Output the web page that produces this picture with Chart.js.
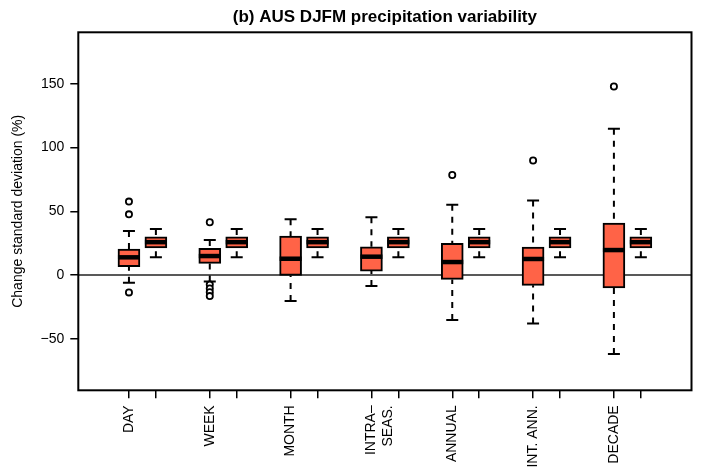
<!DOCTYPE html>
<html>
<head>
<meta charset="utf-8">
<script src="https://cdn.jsdelivr.net/npm/chart.js@4.4.1/dist/chart.umd.min.js"></script>
<style>
  html, body { margin: 0; padding: 0; background: #fff; }
  #wrap { width: 703px; height: 474px; }
</style>
</head>
<body>
<div id="wrap"><canvas id="c" width="703" height="474"></canvas></div>
<script>
// Time scales on the x axis
const timescales = ['DAY', 'WEEK', 'MONTH', ['INTRA–', 'SEAS.'], 'ANNUAL', 'INT. ANN.', 'DECADE'];

// Change in standard deviation (%): whisker ends, quartiles, medians, outliers
const changeLow    = [-6.0, -5.0, -20.4, -8.6, -35.3, -38.0, -62.0];
const changeQ1     = [6.5, 9.2, -0.3, 3.1, -3.4, -8.1, -10.0];
const changeMedian = [13.9, 14.9, 12.8, 14.4, 10.2, 12.6, 19.6];
const changeQ3     = [20.4, 21.0, 30.6, 22.2, 24.9, 22.0, 40.8];
const changeHigh   = [34.5, 27.5, 43.7, 45.3, 55.2, 58.4, 114.7];
const changeOutliers = [
  [57.6, 47.6, -13.6],
  [41.4, -7.5, -10.5, -13.5, -16.5],
  [],
  [],
  [78.5],
  [89.8],
  [147.9]
];

// Companion box drawn beside each time scale
const refLow    = [13.9, 13.9, 13.9, 13.9, 13.9, 13.9, 13.9];
const refQ1     = [21.3, 21.3, 21.3, 21.3, 21.3, 21.3, 21.3];
const refMedian = [25.8, 25.8, 25.8, 25.8, 25.8, 25.8, 25.8];
const refQ3     = [30.0, 30.0, 30.0, 30.0, 30.0, 30.0, 30.0];
const refHigh   = [36.1, 36.1, 36.1, 36.1, 36.1, 36.1, 36.1];

const yTicks = [-50, 0, 50, 100, 150];

// Box positions: two boxes per time scale, one empty slot between groups
const posA = timescales.map((_, i) => 3 * i + 1);
const posB = timescales.map((_, i) => 3 * i + 2);
const xTicks = posA.flatMap((p, i) => [p, posB[i]]);

const FILL = '#FF6347';
const FONT = "'Liberation Sans', Arial, Helvetica, sans-serif";
Chart.defaults.font.family = FONT;
Chart.defaults.color = '#000';

const boxSeries = [
  { low: changeLow, q1: changeQ1, med: changeMedian, q3: changeQ3, high: changeHigh },
  { low: refLow, q1: refQ1, med: refMedian, q3: refQ3, high: refHigh }
];

// Zero line behind the boxes, whiskers, medians and the plot frame
const boxplotParts = {
  id: 'boxplotParts',
  beforeDatasetsDraw(chart) {
    const { ctx, chartArea, scales: { y } } = chart;
    ctx.save();
    // horizontal line at zero
    ctx.strokeStyle = '#222';
    ctx.lineWidth = 1.5;
    ctx.beginPath();
    const y0 = y.getPixelForValue(0);
    ctx.moveTo(chartArea.left, y0);
    ctx.lineTo(chartArea.right, y0);
    ctx.stroke();
    // whiskers (dashed, from the end toward the box) and caps
    boxSeries.forEach((s, d) => {
      const meta = chart.getDatasetMeta(d);
      meta.data.forEach((bar, i) => {
        const cx = bar.x;
        const capHalf = 6;
        const yl = y.getPixelForValue(s.low[i]);
        const yq1 = y.getPixelForValue(s.q1[i]);
        const yq3 = y.getPixelForValue(s.q3[i]);
        const yh = y.getPixelForValue(s.high[i]);
        ctx.strokeStyle = '#000';
        ctx.lineWidth = 2;
        ctx.setLineDash([6, 6]);
        ctx.beginPath();
        ctx.moveTo(cx, yh); ctx.lineTo(cx, yq3);
        ctx.moveTo(cx, yl); ctx.lineTo(cx, yq1);
        ctx.stroke();
        ctx.setLineDash([]);
        ctx.beginPath();
        ctx.moveTo(cx - capHalf, yh); ctx.lineTo(cx + capHalf, yh);
        ctx.moveTo(cx - capHalf, yl); ctx.lineTo(cx + capHalf, yl);
        ctx.stroke();
      });
    });
    ctx.restore();
  },
  afterDatasetsDraw(chart) {
    const { ctx, chartArea, scales: { y } } = chart;
    ctx.save();
    // medians
    boxSeries.forEach((s, d) => {
      const meta = chart.getDatasetMeta(d);
      meta.data.forEach((bar, i) => {
        const ym = y.getPixelForValue(s.med[i]);
        ctx.strokeStyle = '#000';
        ctx.lineWidth = 4.5;
        ctx.lineCap = 'butt';
        ctx.beginPath();
        ctx.moveTo(bar.x - bar.width / 2, ym);
        ctx.lineTo(bar.x + bar.width / 2, ym);
        ctx.stroke();
      });
    });
    // frame
    ctx.strokeStyle = '#000';
    ctx.lineWidth = 2;
    ctx.strokeRect(chartArea.left, chartArea.top,
                   chartArea.right - chartArea.left, chartArea.bottom - chartArea.top);
    ctx.restore();
  }
};

const boxDataset = (pos, s) => ({
  type: 'bar',
  data: pos.map((p, i) => ({ x: p, y: [s.q1[i], s.q3[i]] })),
  backgroundColor: FILL,
  borderColor: '#000',
  borderWidth: 2,
  borderSkipped: false,
  barThickness: 22,
  grouped: false,
  order: 2
});

new Chart(document.getElementById('c'), {
  type: 'bar',
  data: {
    datasets: [
      boxDataset(posA, boxSeries[0]),
      boxDataset(posB, boxSeries[1]),
      {
        type: 'scatter',
        data: changeOutliers.flatMap((vals, i) => vals.map(v => ({ x: posA[i], y: v }))),
        pointRadius: 3.1,
        pointHoverRadius: 3.1,
        borderWidth: 1.8,
        borderColor: '#000',
        backgroundColor: '#fff',
        order: 1
      }
    ]
  },
  options: {
    responsive: false,
    animation: false,
    devicePixelRatio: 1,
    layout: { padding: { left: 0, right: 11.5, top: 0, bottom: 0 } },
    plugins: {
      legend: { display: false },
      tooltip: { enabled: false },
      title: {
        display: true,
        text: '(b) AUS DJFM precipitation variability',
        fullSize: false,
        color: '#000',
        font: { size: 17, weight: 'bold', family: FONT },
        padding: { top: 7, bottom: 4.9 }
      }
    },
    scales: {
      x: {
        type: 'linear',
        min: -0.88,
        max: 21.88,
        offset: false,
        border: { display: false },
        grid: { offset: false, drawOnChartArea: false, drawTicks: true, tickLength: 8, color: '#000', lineWidth: 1.5 },
        afterBuildTicks: s => { s.ticks = xTicks.map(v => ({ value: v })); },
        afterFit: s => { s.height = 474 - 390.3; },
        ticks: {
          autoSkip: false,
          minRotation: 90,
          maxRotation: 90,
          padding: 7,
          color: '#000',
          font: { size: 14, family: FONT },
          callback: v => {
            const i = posA.indexOf(v);
            return i >= 0 ? timescales[i] : '';
          }
        }
      },
      y: {
        type: 'linear',
        min: -90.4,
        max: 190.4,
        border: { display: false },
        grid: { offset: false, drawOnChartArea: false, drawTicks: true, tickLength: 8, color: '#000', lineWidth: 1.5 },
        afterBuildTicks: s => { s.ticks = yTicks.map(v => ({ value: v })); },
        afterFit: s => { s.width = 78.3; },
        ticks: {
          padding: 6,
          color: '#000',
          font: { size: 14, family: FONT },
          callback: v => (v < 0 ? '\u2212' + Math.abs(v) : String(v))
        },
        title: {
          display: true,
          text: 'Change standard deviation (%)',
          color: '#000',
          font: { size: 14, family: FONT },
          padding: { top: 10, bottom: 0 }
        }
      }
    }
  },
  plugins: [boxplotParts]
});
</script>
</body>
</html>
